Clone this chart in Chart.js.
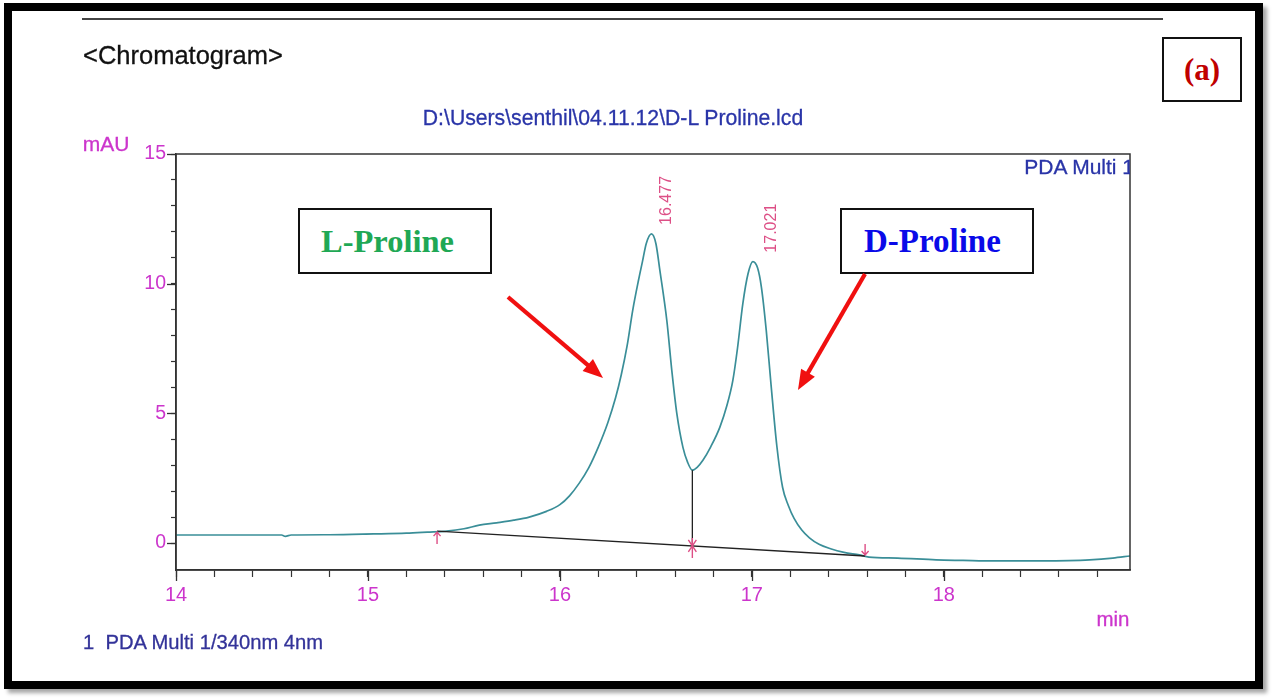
<!DOCTYPE html>
<html><head><meta charset="utf-8">
<script src="https://cdn.jsdelivr.net/npm/chart.js@4.4.1/dist/chart.umd.min.js"></script>
<style>
html,body{margin:0;padding:0;background:#fff;}
#wrap{position:relative;width:1280px;height:698px;overflow:hidden;background:#fff;font-family:"Liberation Sans",Arial,sans-serif;}
#c{position:absolute;left:0;top:0;}
.t{position:absolute;white-space:nowrap;line-height:1;-webkit-text-stroke:0.3px currentColor;}
.box{position:absolute;box-sizing:border-box;border:2px solid #111;background:#fff;display:flex;align-items:center;font-family:"Liberation Serif","Times New Roman",serif;font-weight:bold;white-space:nowrap;}
</style></head>
<body>
<div id="wrap">
<canvas id="c" width="1280" height="698"></canvas>
<div style="position:absolute;left:4px;top:3px;width:1259px;height:686px;box-sizing:border-box;border:8px solid #000;box-shadow:4px 4px 4px rgba(0,0,0,0.35);"></div>
<div style="position:absolute;left:82px;top:18px;width:1081px;height:2px;background:#444;"></div>
<div class="t" style="left:83px;top:56px;transform:translateY(-50%);font-size:25.5px;color:#111;">&lt;Chromatogram&gt;</div>
<div class="t" style="left:613px;top:118px;transform:translate(-50%,-50%);font-size:21.2px;color:#2a35a8;">D:\Users\senthil\04.11.12\D-L Proline.lcd</div>
<div class="t" style="left:106px;top:143px;transform:translate(-50%,-50%);font-size:21px;color:#cc35cc;">mAU</div>
<div style="position:absolute;left:930px;top:153px;width:200px;height:28px;overflow:hidden;">
  <div class="t" style="right:-4px;top:13px;transform:translateY(-50%);font-size:21px;color:#2a35a8;">PDA Multi 1</div>
</div>
<div class="t" style="left:1113px;top:619px;transform:translate(-50%,-50%);font-size:20.5px;color:#cc35cc;">min</div>
<div class="t" style="left:83px;top:642px;transform:translateY(-50%);font-size:20.2px;color:#333399;">1&nbsp; PDA Multi 1/340nm 4nm</div>
<div class="box" style="left:1162px;top:37px;width:80px;height:65px;justify-content:center;font-size:31px;color:#c00000;">(a)</div>
<div class="box" style="left:298px;top:208px;width:194px;height:66px;padding-left:21px;font-size:32.5px;color:#1fa855;">L-Proline</div>
<div class="box" style="left:840px;top:208px;width:194px;height:66px;padding-left:22px;font-size:33px;color:#0a0ae8;">D-Proline</div>
<svg width="1280" height="698" style="position:absolute;left:0;top:0;pointer-events:none">
  <line x1="508" y1="297" x2="590.8" y2="367.6" stroke="#f01010" stroke-width="4.2"/>
  <polygon points="603,378 582.6,371.1 593.0,358.9" fill="#f01010"/>
  <line x1="865" y1="274" x2="806" y2="376.1" stroke="#f01010" stroke-width="4.2"/>
  <polygon points="798,390 801.1,368.7 814.9,376.7" fill="#f01010"/>
</svg>
</div>
<script>
// ---- data ----
const times = [14.00,14.30,14.55,14.57,14.60,14.80,15.03,15.20,15.31,15.41,15.50,15.58,15.67,15.76,15.84,15.93,16.00,16.05,16.10,16.15,16.20,16.25,16.29,16.32,16.35,16.38,16.41,16.43,16.45,16.477,16.50,16.521,16.557,16.583,16.609,16.641,16.665,16.69,16.715,16.745,16.785,16.833,16.87,16.901,16.925,16.953,16.98,17.005,17.03,17.05,17.075,17.10,17.13,17.16,17.19,17.22,17.26,17.30,17.35,17.41,17.48,17.56,17.61,17.76,17.96,18.10,18.26,18.50,18.65,18.76,18.88,18.97];
const mAU   = [0.31,0.31,0.31,0.26,0.31,0.32,0.35,0.38,0.42,0.46,0.55,0.69,0.78,0.88,1.00,1.22,1.48,1.82,2.30,2.90,3.70,4.65,5.60,6.50,7.60,9.00,10.15,10.85,11.55,11.92,11.55,10.50,8.58,6.65,5.00,3.69,3.12,2.81,2.92,3.19,3.70,4.46,5.30,6.27,7.50,9.23,10.38,10.85,10.60,9.85,8.20,6.10,3.75,2.15,1.45,0.95,0.50,0.20,-0.05,-0.22,-0.36,-0.46,-0.54,-0.58,-0.65,-0.67,-0.69,-0.69,-0.68,-0.65,-0.58,-0.50];
const baselineTimes  = [15.36, 17.59];
const baselineValues = [0.46, -0.50];
const dropTimes  = [16.69, 16.69];
const dropValues = [2.81, -0.11];
const peakTimes   = [16.477, 17.021];
const peakHeights = [11.92, 10.85];
const xTickLabels = [14, 15, 16, 17, 18];
const yTickLabels = [0, 5, 10, 15];
const xMinorStep = 0.2;
const yMinorStep = 1;

const AXIS = '#333333', MAG = '#cc35cc', PINK = '#dd4f86';

const framePlugin = {
  id: 'frame',
  afterDraw(chart) {
    const {ctx, chartArea: a, scales: {x, y}} = chart;
    ctx.save();
    ctx.strokeStyle = AXIS; ctx.lineWidth = 1.5;
    ctx.strokeRect(a.left, a.top, a.right - a.left, a.bottom - a.top);
    // longer major ticks
    ctx.lineWidth = 1.3;
    xTickLabels.forEach(v => {
      const px = Math.round(x.getPixelForValue(v)) + 0.5;
      ctx.beginPath(); ctx.moveTo(px, a.bottom); ctx.lineTo(px, a.bottom + 11); ctx.stroke();
    });
    yTickLabels.forEach(v => {
      const py = Math.round(y.getPixelForValue(v)) + 0.5;
      ctx.beginPath(); ctx.moveTo(a.left - 9, py); ctx.lineTo(a.left, py); ctx.stroke();
    });
    // integration markers
    ctx.strokeStyle = PINK; ctx.lineWidth = 1.4;
    const s = {x: x.getPixelForValue(baselineTimes[0]), y: y.getPixelForValue(baselineValues[0])};
    ctx.beginPath();
    ctx.moveTo(s.x, s.y + 13); ctx.lineTo(s.x, s.y + 1);
    ctx.moveTo(s.x - 3.5, s.y + 5); ctx.lineTo(s.x, s.y + 1); ctx.lineTo(s.x + 3.5, s.y + 5);
    ctx.stroke();
    const e = {x: x.getPixelForValue(baselineTimes[1]), y: y.getPixelForValue(baselineValues[1])};
    ctx.beginPath();
    ctx.moveTo(e.x, e.y - 12); ctx.lineTo(e.x, e.y - 1);
    ctx.moveTo(e.x - 3.5, e.y - 5); ctx.lineTo(e.x, e.y - 1); ctx.lineTo(e.x + 3.5, e.y - 5);
    ctx.stroke();
    const d = {x: x.getPixelForValue(dropTimes[1]), y: y.getPixelForValue(dropValues[1])};
    ctx.beginPath();
    ctx.moveTo(d.x, d.y - 8); ctx.lineTo(d.x, d.y + 12);
    ctx.moveTo(d.x - 4, d.y - 6); ctx.lineTo(d.x, d.y); ctx.lineTo(d.x + 4, d.y - 6);
    ctx.moveTo(d.x - 4, d.y + 6); ctx.lineTo(d.x, d.y); ctx.lineTo(d.x + 4, d.y + 6);
    ctx.stroke();
    // peak retention-time labels
    ctx.fillStyle = PINK;
    ctx.font = '16px "Liberation Sans", Arial, sans-serif';
    ctx.textAlign = 'left'; ctx.textBaseline = 'alphabetic';
    peakTimes.forEach((t, i) => {
      const px = x.getPixelForValue(t), py = y.getPixelForValue(peakHeights[i]);
      ctx.save();
      ctx.translate(px + 20, py - 9);
      ctx.rotate(-Math.PI / 2);
      ctx.fillText(t.toFixed(3), 0, 0);
      ctx.restore();
    });
    ctx.restore();
  }
};

function isInt(v) { return Math.abs(v - Math.round(v)) < 1e-6; }

new Chart(document.getElementById('c'), {
  type: 'line',
  data: {
    datasets: [
      { data: baselineTimes.map((t, i) => ({x: t, y: baselineValues[i]})), borderColor: '#222', borderWidth: 1.3, pointRadius: 0, tension: 0 },
      { data: dropTimes.map((t, i) => ({x: t, y: dropValues[i]})), borderColor: '#222', borderWidth: 1.3, pointRadius: 0, tension: 0 },
      { data: times.map((t, i) => ({x: t, y: mAU[i]})), borderColor: '#3a8e98', borderWidth: 1.7, pointRadius: 0, cubicInterpolationMode: 'monotone' }
    ]
  },
  options: {
    responsive: false, animation: false, devicePixelRatio: 1,
    layout: { padding: { left: 0, right: 150, top: 154, bottom: 0 } },
    plugins: { legend: { display: false }, tooltip: { enabled: false } },
    scales: {
      x: {
        type: 'linear', min: 14, max: 18.97,
        afterBuildTicks(s) {
          const t = [];
          for (let v = 14; v <= 18.97 + 1e-9; v += xMinorStep) t.push({value: Math.round(v * 10) / 10});
          s.ticks = t;
        },
        afterFit(s) { s.height = 128; },
        grid: { drawOnChartArea: false, drawTicks: true, tickLength: 7, color: AXIS, tickColor: AXIS, tickWidth: 1.2 },
        border: { display: true, color: AXIS, width: 1.5 },
        ticks: {
          autoSkip: false, maxRotation: 0, padding: 6, color: MAG,
          font: { size: 20, family: '"Liberation Sans", Arial, sans-serif' },
          callback: v => (isInt(v) && xTickLabels.includes(Math.round(v))) ? String(Math.round(v)) : ''
        }
      },
      y: {
        type: 'linear', min: -1.04, max: 15,
        afterBuildTicks(s) {
          const t = [];
          for (let v = 0; v <= 15; v += yMinorStep) t.push({value: v});
          s.ticks = t;
        },
        afterFit(s) { s.width = 176; },
        grid: { drawOnChartArea: false, drawTicks: true, tickLength: 5, color: AXIS, tickColor: AXIS, tickWidth: 1.2 },
        border: { display: true, color: AXIS, width: 1.5 },
        ticks: {
          autoSkip: false, padding: 5, color: MAG,
          font: { size: 19.5, family: '"Liberation Sans", Arial, sans-serif' },
          callback: v => yTickLabels.includes(v) ? String(v) : ''
        }
      }
    }
  },
  plugins: [framePlugin]
});
</script>
</body></html>
